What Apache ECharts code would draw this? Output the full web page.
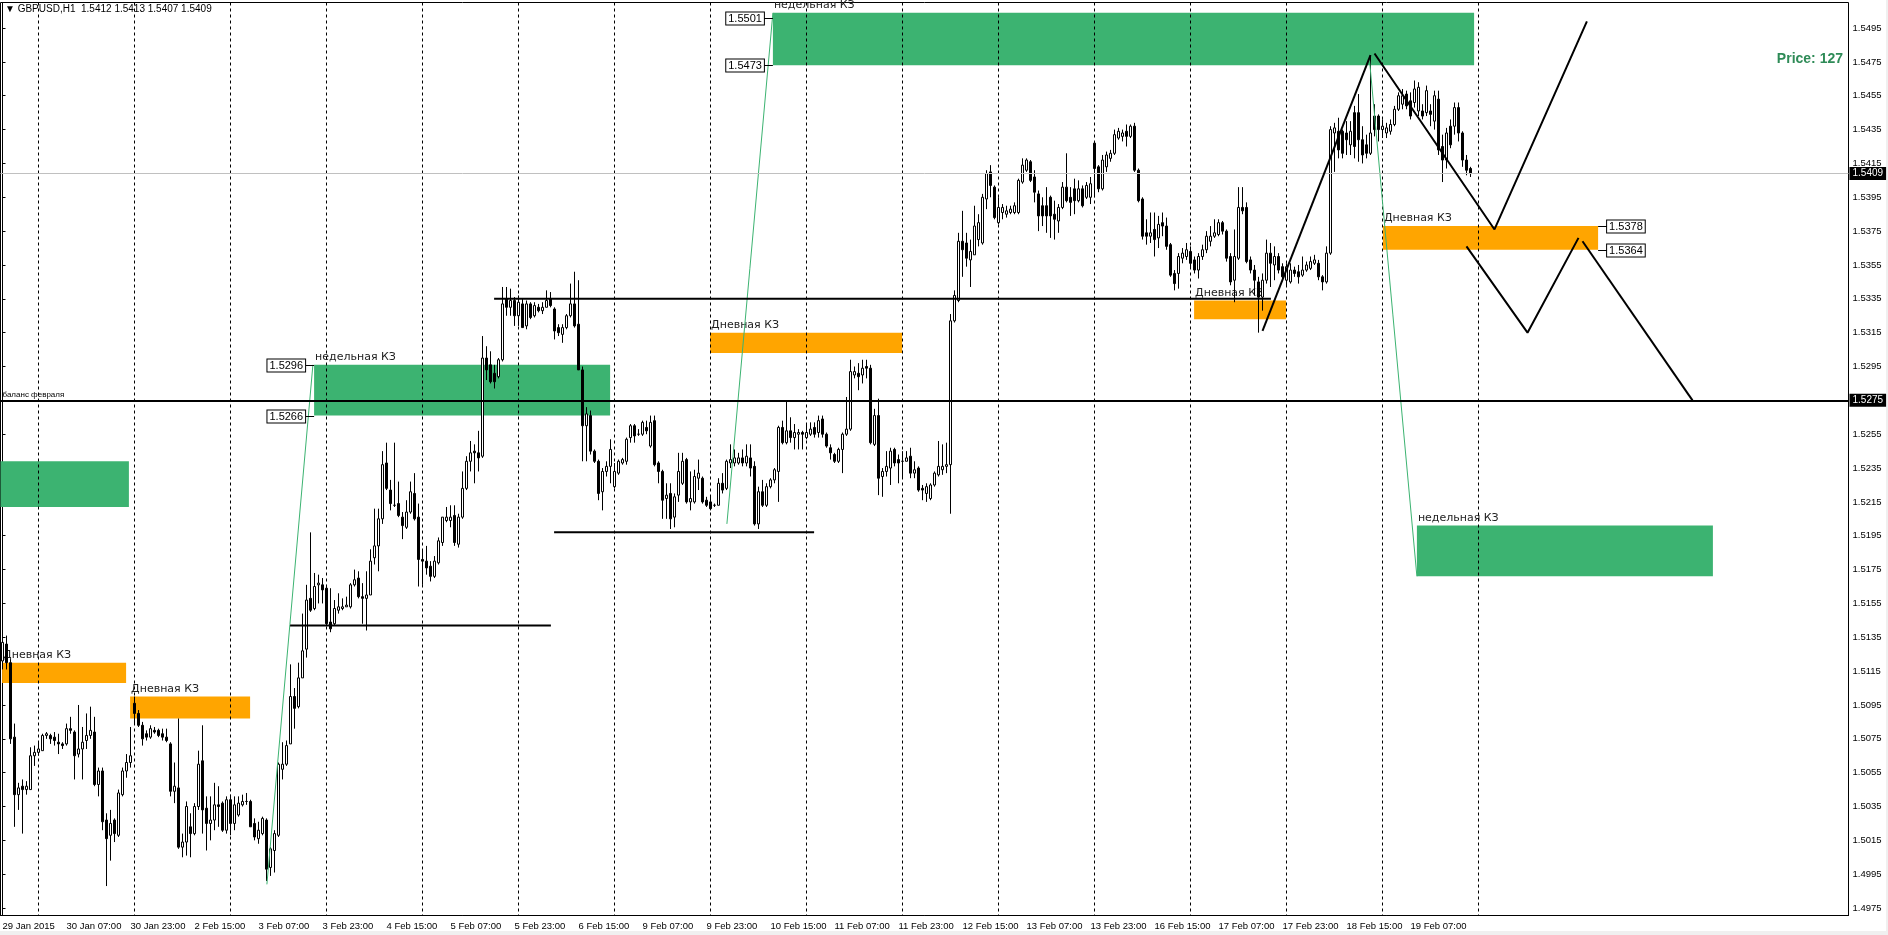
<!DOCTYPE html>
<html><head><meta charset="utf-8">
<script src="https://cdn.jsdelivr.net/npm/echarts@6/dist/echarts.min.js"></script>
<style>html,body{margin:0;padding:0;background:#fff}#c{width:1888px;height:935px}</style>
</head><body><div id="c"></div>
<script>
// ---------- DATA ----------
const header = '\u25BC GBPUSD,H1  1.5412 1.5413 1.5407 1.5409';
const priceText = 'Price: 127';
const timeLabels = ['29 Jan 2015','30 Jan 07:00','30 Jan 23:00','2 Feb 15:00','3 Feb 07:00','3 Feb 23:00','4 Feb 15:00','5 Feb 07:00','5 Feb 23:00','6 Feb 15:00','9 Feb 07:00','9 Feb 23:00','10 Feb 15:00','11 Feb 07:00','11 Feb 23:00','12 Feb 15:00','13 Feb 07:00','13 Feb 23:00','16 Feb 15:00','17 Feb 07:00','17 Feb 23:00','18 Feb 15:00','19 Feb 07:00'];
const labelEvery = 16; // bars between time labels
const priceTicks = [1.4975,1.4995,1.5015,1.5035,1.5055,1.5075,1.5095,1.5115,1.5135,1.5155,1.5175,1.5195,1.5215,1.5235,1.5255,1.5275,1.5295,1.5315,1.5335,1.5355,1.5375,1.5395,1.5415,1.5435,1.5455,1.5475,1.5495];
const daySeparators = [9,33,57,81,105,129,153,177,201,225,249,273,297,321,345,369]; // bar index of each day start
const totalSlots = 462; // bars + empty shift area
// hourly candles [open, high, low, close]
const ohlc = [
// 29 Jan
[1.5121,1.5143,1.5116,1.5132],[1.5131,1.5136,1.5116,1.5120],[1.5120,1.5122,1.5072,1.5075],[1.5076,1.5084,1.5023,1.5042],[1.5042,1.5049,1.5033,1.5046],[1.5047,1.5051,1.5019,1.5045],[1.5045,1.5050,1.5042,1.5047],[1.5045,1.5070,1.5045,1.5065],[1.5065,1.5071,1.5059,1.5067],
// 30 Jan
[1.5067,1.5073,1.5065,1.5069],[1.5068,1.5078,1.5068,1.5077],[1.5077,1.5079,1.5075,1.5078],[1.5077,1.5078,1.5072,1.5075],[1.5076,1.5079,1.5071,1.5074],[1.5073,1.5078,1.5066,1.5072],[1.5072,1.5073,1.5069,1.5071],[1.5072,1.5084,1.5071,1.5081],
[1.5081,1.5088,1.5078,1.5080],[1.5079,1.5080,1.5051,1.5065],[1.5066,1.5095,1.5064,1.5069],[1.5069,1.5082,1.5051,1.5073],[1.5074,1.5090,1.5069,1.5077],[1.5077,1.5094,1.5075,1.5080],[1.5079,1.5088,1.5047,1.5048],[1.5048,1.5058,1.5041,1.5056],
[1.5056,1.5058,1.5021,1.5026],[1.5027,1.5031,1.4988,1.5016],[1.5018,1.5033,1.5003,1.5025],[1.5027,1.5028,1.5014,1.5019],[1.5018,1.5045,1.5017,1.5043],[1.5042,1.5058,1.5041,1.5056],[1.5056,1.5066,1.5052,1.5061],[1.5061,1.5082,1.5058,1.5065],
// 2 Feb
[1.5096,1.5100,1.5084,1.5090],[1.5090,1.5092,1.5082,1.5083],[1.5083,1.5085,1.5071,1.5075],[1.5078,1.5080,1.5074,1.5076],[1.5076,1.5083,1.5075,1.5081],[1.5080,1.5082,1.5078,1.5079],[1.5080,1.5081,1.5076,1.5077],[1.5078,1.5081,1.5074,1.5076],
[1.5076,1.5081,1.5073,1.5074],[1.5072,1.5073,1.5041,1.5044],[1.5044,1.5061,1.5037,1.5047],[1.5046,1.5087,1.5010,1.5011],[1.5011,1.5019,1.5005,1.5014],[1.5014,1.5038,1.5006,1.5035],[1.5023,1.5031,1.5005,1.5019],[1.5019,1.5037,1.5018,1.5035],
[1.5035,1.5068,1.5033,1.5060],[1.5062,1.5083,1.5019,1.5033],[1.5034,1.5041,1.5009,1.5025],[1.5025,1.5041,1.5015,1.5027],[1.5027,1.5049,1.5021,1.5036],[1.5036,1.5047,1.5023,1.5035],[1.5037,1.5038,1.5020,1.5021],[1.5021,1.5041,1.5019,1.5039],
// 3 Feb
[1.5039,1.5042,1.5018,1.5025],[1.5025,1.5041,1.5021,1.5036],[1.5030,1.5041,1.5029,1.5037],[1.5036,1.5042,1.5035,1.5038],[1.5038,1.5043,1.5036,1.5038],[1.5038,1.5039,1.5023,1.5023],[1.5025,1.5028,1.5015,1.5017],[1.5016,1.5026,1.5013,1.5021],
[1.5019,1.5029,1.5018,1.5028],[1.5027,1.5028,1.4991,1.4998],[1.4999,1.5011,1.4994,1.5010],[1.5009,1.5021,1.4996,1.5019],[1.5018,1.5061,1.5017,1.5060],[1.5057,1.5073,1.5051,1.5060],[1.5060,1.5074,1.5059,1.5071],[1.5072,1.5119,1.5072,1.5100],
[1.5100,1.5105,1.5081,1.5093],[1.5094,1.5120,1.5093,1.5111],[1.5111,1.5149,1.5111,1.5127],[1.5128,1.5166,1.5123,1.5157],[1.5158,1.5197,1.5150,1.5151],[1.5152,1.5173,1.5151,1.5165],[1.5166,1.5172,1.5155,1.5167],[1.5166,1.5170,1.5155,1.5163],
// 4 Feb
[1.5164,1.5166,1.5142,1.5143],[1.5144,1.5164,1.5138,1.5140],[1.5143,1.5157,1.5142,1.5152],[1.5151,1.5161,1.5149,1.5153],[1.5152,1.5158,1.5151,1.5153],[1.5153,1.5159,1.5153,1.5154],[1.5153,1.5167,1.5152,1.5166],[1.5166,1.5175,1.5165,1.5169],
[1.5170,1.5174,1.5158,1.5159],[1.5159,1.5167,1.5143,1.5158],[1.5158,1.5174,1.5139,1.5160],[1.5160,1.5187,1.5160,1.5180],[1.5182,1.5211,1.5178,1.5189],[1.5189,1.5211,1.5174,1.5205],[1.5205,1.5245,1.5202,1.5237],[1.5238,1.5250,1.5222,1.5223],
[1.5222,1.5228,1.5210,1.5214],[1.5213,1.5250,1.5212,1.5213],[1.5214,1.5227,1.5206,1.5207],[1.5206,1.5209,1.5193,1.5201],[1.5200,1.5216,1.5199,1.5209],[1.5209,1.5227,1.5208,1.5221],[1.5220,1.5232,1.5204,1.5205],[1.5206,1.5214,1.5165,1.5181],
// 5 Feb
[1.5181,1.5186,1.5166,1.5180],[1.5180,1.5189,1.5172,1.5176],[1.5177,1.5180,1.5168,1.5171],[1.5171,1.5183,1.5170,1.5180],[1.5179,1.5194,1.5178,1.5192],[1.5191,1.5206,1.5189,1.5206],[1.5204,1.5212,1.5203,1.5206],[1.5204,1.5213,1.5200,1.5206],
[1.5207,1.5213,1.5189,1.5191],[1.5190,1.5208,1.5188,1.5206],[1.5206,1.5233,1.5205,1.5223],[1.5223,1.5242,1.5222,1.5239],[1.5239,1.5251,1.5233,1.5244],[1.5245,1.5249,1.5226,1.5244],[1.5244,1.5257,1.5233,1.5241],[1.5242,1.5313,1.5241,1.5300],
[1.5300,1.5307,1.5287,1.5293],[1.5296,1.5304,1.5285,1.5286],[1.5291,1.5296,1.5282,1.5286],[1.5289,1.5300,1.5288,1.5299],[1.5299,1.5342,1.5298,1.5332],[1.5335,1.5342,1.5325,1.5330],[1.5330,1.5341,1.5325,1.5334],[1.5334,1.5336,1.5319,1.5325],
// 6 Feb
[1.5325,1.5337,1.5319,1.5333],[1.5332,1.5335,1.5318,1.5318],[1.5319,1.5334,1.5317,1.5332],[1.5332,1.5333,1.5323,1.5324],[1.5325,1.5333,1.5324,1.5331],[1.5330,1.5332,1.5327,1.5328],[1.5328,1.5333,1.5326,1.5330],[1.5330,1.5340,1.5330,1.5334],
[1.5335,1.5339,1.5330,1.5331],[1.5329,1.5330,1.5311,1.5316],[1.5318,1.5320,1.5313,1.5315],[1.5314,1.5320,1.5309,1.5318],[1.5318,1.5326,1.5317,1.5325],[1.5325,1.5344,1.5324,1.5332],[1.5332,1.5351,1.5318,1.5319],[1.5320,1.5346,1.5293,1.5293],
[1.5293,1.5295,1.5239,1.5260],[1.5260,1.5271,1.5239,1.5267],[1.5266,1.5269,1.5243,1.5245],[1.5245,1.5246,1.5238,1.5239],[1.5239,1.5240,1.5216,1.5220],[1.5221,1.5235,1.5210,1.5233],[1.5233,1.5239,1.5230,1.5236],[1.5236,1.5252,1.5226,1.5246],
// 9 Feb
[1.5224,1.5238,1.5223,1.5233],[1.5232,1.5240,1.5231,1.5239],[1.5238,1.5241,1.5237,1.5240],[1.5239,1.5253,1.5237,1.5252],[1.5253,1.5261,1.5250,1.5260],[1.5260,1.5261,1.5250,1.5254],[1.5255,1.5258,1.5254,1.5255],[1.5255,1.5263,1.5254,1.5262],
[1.5259,1.5263,1.5255,1.5257],[1.5248,1.5266,1.5247,1.5262],[1.5263,1.5266,1.5236,1.5237],[1.5238,1.5239,1.5226,1.5233],[1.5233,1.5234,1.5205,1.5216],[1.5217,1.5226,1.5205,1.5219],[1.5220,1.5226,1.5199,1.5205],[1.5206,1.5220,1.5200,1.5218],
[1.5219,1.5244,1.5215,1.5233],[1.5226,1.5244,1.5225,1.5239],[1.5240,1.5241,1.5214,1.5215],[1.5215,1.5233,1.5210,1.5217],[1.5215,1.5234,1.5214,1.5230],[1.5229,1.5240,1.5222,1.5232],[1.5229,1.5230,1.5214,1.5215],[1.5216,1.5218,1.5212,1.5213],
// 10 Feb
[1.5215,1.5218,1.5210,1.5211],[1.5213,1.5214,1.5212,1.5213],[1.5213,1.5229,1.5213,1.5226],[1.5226,1.5232,1.5220,1.5222],[1.5223,1.5240,1.5222,1.5239],[1.5238,1.5249,1.5235,1.5240],[1.5238,1.5246,1.5236,1.5241],[1.5238,1.5244,1.5237,1.5241],
[1.5241,1.5246,1.5236,1.5238],[1.5238,1.5249,1.5236,1.5242],[1.5241,1.5249,1.5230,1.5235],[1.5236,1.5239,1.5201,1.5202],[1.5202,1.5224,1.5199,1.5221],[1.5221,1.5228,1.5212,1.5213],[1.5213,1.5226,1.5212,1.5224],[1.5224,1.5229,1.5223,1.5228],
[1.5228,1.5235,1.5226,1.5234],[1.5233,1.5260,1.5215,1.5259],[1.5259,1.5263,1.5249,1.5250],[1.5250,1.5275,1.5249,1.5257],[1.5257,1.5265,1.5250,1.5253],[1.5253,1.5261,1.5246,1.5256],[1.5255,1.5258,1.5246,1.5256],[1.5256,1.5257,1.5246,1.5255],
// 11 Feb
[1.5253,1.5261,1.5252,1.5256],[1.5255,1.5262,1.5254,1.5258],[1.5259,1.5262,1.5253,1.5255],[1.5256,1.5266,1.5253,1.5263],[1.5264,1.5266,1.5253,1.5255],[1.5255,1.5256,1.5247,1.5248],[1.5247,1.5249,1.5240,1.5244],[1.5243,1.5244,1.5238,1.5239],
[1.5239,1.5247,1.5238,1.5246],[1.5246,1.5256,1.5232,1.5255],[1.5255,1.5277,1.5254,1.5258],[1.5258,1.5299,1.5257,1.5292],[1.5290,1.5295,1.5288,1.5292],[1.5291,1.5297,1.5281,1.5289],[1.5290,1.5299,1.5285,1.5294],[1.5295,1.5299,1.5288,1.5294],
[1.5294,1.5296,1.5249,1.5250],[1.5249,1.5270,1.5248,1.5266],[1.5266,1.5276,1.5219,1.5229],[1.5230,1.5235,1.5218,1.5233],[1.5233,1.5245,1.5230,1.5236],[1.5235,1.5247,1.5225,1.5245],[1.5246,1.5247,1.5236,1.5238],[1.5240,1.5243,1.5226,1.5238],
// 12 Feb
[1.5239,1.5245,1.5229,1.5239],[1.5239,1.5245,1.5239,1.5241],[1.5242,1.5247,1.5229,1.5232],[1.5232,1.5239,1.5229,1.5234],[1.5235,1.5236,1.5221,1.5222],[1.5223,1.5225,1.5216,1.5222],[1.5220,1.5226,1.5215,1.5224],[1.5217,1.5226,1.5216,1.5225],
[1.5225,1.5233,1.5224,1.5232],[1.5231,1.5251,1.5230,1.5236],[1.5234,1.5249,1.5231,1.5236],[1.5236,1.5250,1.5232,1.5237],[1.5237,1.5326,1.5208,1.5322],[1.5322,1.5340,1.5321,1.5337],[1.5334,1.5374,1.5333,1.5369],[1.5369,1.5387,1.5348,1.5364],
[1.5368,1.5374,1.5354,1.5359],[1.5358,1.5370,1.5342,1.5363],[1.5361,1.5390,1.5361,1.5378],[1.5370,1.5385,1.5366,1.5380],[1.5368,1.5397,1.5367,1.5395],[1.5394,1.5411,1.5388,1.5409],[1.5410,1.5414,1.5395,1.5402],[1.5401,1.5402,1.5382,1.5383],
// 13 Feb
[1.5380,1.5395,1.5379,1.5389],[1.5386,1.5391,1.5382,1.5389],[1.5385,1.5390,1.5383,1.5387],[1.5386,1.5390,1.5385,1.5388],[1.5386,1.5392,1.5385,1.5390],[1.5386,1.5406,1.5385,1.5405],[1.5404,1.5418,1.5403,1.5414],[1.5411,1.5418,1.5410,1.5417],
[1.5416,1.5417,1.5404,1.5405],[1.5407,1.5411,1.5392,1.5398],[1.5397,1.5399,1.5375,1.5384],[1.5390,1.5395,1.5378,1.5384],[1.5390,1.5401,1.5374,1.5384],[1.5395,1.5396,1.5371,1.5384],[1.5385,1.5393,1.5370,1.5382],[1.5381,1.5391,1.5374,1.5389],
[1.5389,1.5404,1.5388,1.5401],[1.5401,1.5421,1.5392,1.5393],[1.5395,1.5401,1.5384,1.5392],[1.5400,1.5406,1.5385,1.5393],[1.5393,1.5405,1.5392,1.5400],[1.5400,1.5402,1.5389,1.5390],[1.5395,1.5404,1.5394,1.5402],[1.5395,1.5407,1.5391,1.5403],
// 16 Feb
[1.5427,1.5428,1.5395,1.5412],[1.5413,1.5414,1.5398,1.5400],[1.5400,1.5420,1.5399,1.5417],[1.5413,1.5422,1.5410,1.5420],[1.5418,1.5423,1.5416,1.5421],[1.5421,1.5435,1.5420,1.5432],[1.5430,1.5436,1.5429,1.5434],[1.5431,1.5435,1.5428,1.5433],
[1.5434,1.5438,1.5425,1.5431],[1.5431,1.5438,1.5430,1.5437],[1.5437,1.5439,1.5410,1.5411],[1.5411,1.5412,1.5392,1.5393],[1.5394,1.5395,1.5370,1.5372],[1.5374,1.5382,1.5367,1.5372],[1.5372,1.5386,1.5368,1.5374],[1.5376,1.5386,1.5360,1.5370],
[1.5371,1.5384,1.5365,1.5379],[1.5380,1.5386,1.5372,1.5378],[1.5378,1.5383,1.5364,1.5366],[1.5367,1.5368,1.5348,1.5349],[1.5350,1.5352,1.5340,1.5344],[1.5350,1.5362,1.5341,1.5360],[1.5359,1.5365,1.5356,1.5362],[1.5360,1.5368,1.5358,1.5364],
// 17 Feb
[1.5363,1.5366,1.5353,1.5356],[1.5358,1.5360,1.5350,1.5352],[1.5352,1.5362,1.5347,1.5360],[1.5360,1.5367,1.5358,1.5364],[1.5364,1.5375,1.5362,1.5372],[1.5369,1.5378,1.5366,1.5372],[1.5372,1.5382,1.5371,1.5374],[1.5373,1.5382,1.5372,1.5380],
[1.5380,1.5381,1.5373,1.5375],[1.5375,1.5376,1.5357,1.5359],[1.5360,1.5362,1.5343,1.5345],[1.5346,1.5376,1.5333,1.5360],[1.5359,1.5401,1.5358,1.5389],[1.5389,1.5401,1.5385,1.5387],[1.5389,1.5392,1.5356,1.5357],[1.5358,1.5360,1.5350,1.5352],
[1.5352,1.5355,1.5337,1.5346],[1.5345,1.5348,1.5315,1.5336],[1.5336,1.5350,1.5328,1.5346],[1.5346,1.5370,1.5344,1.5362],[1.5362,1.5368,1.5342,1.5356],[1.5355,1.5366,1.5346,1.5360],[1.5360,1.5362,1.5350,1.5352],[1.5354,1.5356,1.5346,1.5348],
// 18 Feb
[1.5346,1.5356,1.5343,1.5354],[1.5345,1.5356,1.5344,1.5352],[1.5352,1.5354,1.5348,1.5350],[1.5351,1.5355,1.5344,1.5348],[1.5349,1.5360,1.5348,1.5352],[1.5352,1.5357,1.5351,1.5355],[1.5353,1.5360,1.5352,1.5357],[1.5356,1.5361,1.5355,1.5358],
[1.5356,1.5358,1.5346,1.5348],[1.5348,1.5349,1.5340,1.5345],[1.5345,1.5366,1.5344,1.5362],[1.5362,1.5437,1.5361,1.5435],[1.5433,1.5439,1.5410,1.5436],[1.5434,1.5442,1.5418,1.5423],[1.5434,1.5435,1.5418,1.5421],[1.5433,1.5440,1.5420,1.5429],
[1.5426,1.5440,1.5420,1.5434],[1.5445,1.5449,1.5418,1.5425],[1.5445,1.5456,1.5416,1.5429],[1.5429,1.5437,1.5415,1.5420],[1.5426,1.5432,1.5418,1.5421],[1.5421,1.5479,1.5420,1.5433],[1.5443,1.5450,1.5431,1.5435],[1.5443,1.5444,1.5428,1.5435],
// 19 Feb
[1.5435,1.5441,1.5430,1.5437],[1.5433,1.5439,1.5430,1.5436],[1.5434,1.5441,1.5432,1.5438],[1.5438,1.5449,1.5437,1.5447],[1.5447,1.5457,1.5446,1.5455],[1.5450,1.5459,1.5447,1.5455],[1.5456,1.5458,1.5447,1.5449],[1.5452,1.5457,1.5441,1.5443],
[1.5451,1.5464,1.5448,1.5459],[1.5446,1.5463,1.5443,1.5460],[1.5446,1.5450,1.5441,1.5443],[1.5445,1.5461,1.5443,1.5458],[1.5446,1.5450,1.5437,1.5444],[1.5440,1.5458,1.5435,1.5455],[1.5453,1.5458,1.5420,1.5423],[1.5425,1.5432,1.5404,1.5417],
[1.5417,1.5436,1.5412,1.5433],[1.5437,1.5441,1.5424,1.5426],[1.5437,1.5451,1.5432,1.5448],[1.5448,1.5451,1.5428,1.5433],[1.5433,1.5434,1.5413,1.5417],[1.5417,1.5420,1.5408,1.5411],[1.5412,1.5413,1.5407,1.5409]
];
// zones: [fromBar, toBar, topPrice, bottomPrice, kind, label]
const zones = [
  [-0.5, 31.6, 1.5239, 1.5212, 'weekly', ''],
  [-0.1, 30.9, 1.5120, 1.5108, 'daily', 'Дневная КЗ'],
  [31.9, 61.9, 1.5100, 1.5087, 'daily', 'Дневная КЗ'],
  [77.9, 151.9, 1.5296, 1.5266, 'weekly', 'недельная КЗ'],
  [176.9, 224.9, 1.5315, 1.5303, 'daily', 'Дневная КЗ'],
  [192.6, 367.9, 1.5504, 1.5473, 'weekly', 'недельная КЗ'],
  [297.9, 320.9, 1.5334, 1.5323, 'daily', 'Дневная КЗ'],
  [345.1, 398.9, 1.5378, 1.5364, 'daily', 'Дневная КЗ'],
  [353.6, 427.6, 1.5201, 1.5171, 'weekly', 'недельная КЗ']
];
// price tags: [anchorBar, price, side(-1 left / 1 right)]
const priceTags = [[77.9,1.5296,-1],[77.9,1.5266,-1],[192.6,1.5501,-1],[192.6,1.5473,-1],[398.9,1.5378,1],[398.9,1.5364,1]];
// horizontal level segments: [fromBar, toBar, price]
const levels = [[71.9,137.1,1.5142],[137.9,202.9,1.5197],[122.9,317.1,1.5335]];
// zigzag projection paths [bar, price]
const zigzags = [
  [[315,1.5316],[342,1.5479]],
  [[343,1.5480],[373,1.5376],[396.1,1.5499]],
  [[366,1.5366],[381.25,1.5315],[394,1.5371]],
  [[395,1.5369],[422.5,1.5275]]
];
// thin green trend lines [bar, price]
const trendLines = [
  [[66.1,1.4989],[77.6,1.5296]],
  [[181.1,1.5202],[192.6,1.5504]],
  [[341.6,1.5480],[353.6,1.5171]]
];
const balanceLevel = 1.5275, balanceText = 'баланс февраля';
const bidPrice = 1.5409;
const yMin = 1.49706, yMax = 1.55101;

// ---------- STYLE ----------
const GREEN = '#3CB371', ORANGE = '#FFA500';
const chart = echarts.init(document.getElementById('c'), null, {renderer: 'canvas'});
const slots = Array.from({length: totalSlots}, (_, i) => String(i));

const lineSeries = [];
levels.forEach(l => lineSeries.push({type:'line', xAxisIndex:1, yAxisIndex:0, data:[[l[0], l[2]],[l[1], l[2]]], symbol:'none', silent:true, lineStyle:{color:'#000', width:2}, z:5}));
zigzags.forEach(p => lineSeries.push({type:'line', xAxisIndex:1, yAxisIndex:0, data:p, symbol:'none', silent:true, lineStyle:{color:'#000', width:2}, z:5}));
trendLines.forEach(p => lineSeries.push({type:'line', xAxisIndex:1, yAxisIndex:0, data:p, symbol:'none', silent:true, lineStyle:{color:GREEN, width:1}, z:4}));

const tagLabel = {show:true, color:'#fff', backgroundColor:'#000', padding:[2,3,1,3], fontSize:10, fontFamily:'Liberation Sans', distance:1};

chart.setOption({
  animation: false,
  backgroundColor: '#fff',
  grid: {left: 0.5, right: 39.5, top: 2.5, bottom: 19.5, show: true, borderColor: '#000', borderWidth: 1, backgroundColor: '#fff', outerBoundsMode: 'none'},
  graphic: [
    {type:'text', left: 5, top: 4, style:{text: header, font:'10px "Liberation Sans"', fill:'#000'}},
    {type:'text', right: 45, top: 52, style:{text: priceText, font:'bold 14px "Liberation Sans"', fill:'#2E8B57'}},
    {type:'rect', left: 0, top: 931, shape:{width:1888, height:4}, style:{fill:'#f0f0f0'}},
    {type:'rect', left: 1886, top: 0, shape:{width:2, height:935}, style:{fill:'#f0f0f0'}}
  ],
  xAxis: [
    {type:'category', data: slots, boundaryGap: true, position:'bottom',
     axisLine:{show:true, lineStyle:{color:'#000'}}, axisTick:{show:false}, splitLine:{show:false},
     axisLabel:{interval: (i) => i % labelEvery === 0 && i / labelEvery < timeLabels.length,
       formatter: (v, i) => timeLabels[Math.round(i / labelEvery)] || '', align:'left', margin: 6,
       fontSize: 9.5, fontFamily:'Liberation Sans', color:'#000'}},
    {type:'value', min: -0.5, max: totalSlots - 0.5, show: false, position:'bottom'}
  ],
  yAxis: [{type:'value', position:'right', min: yMin, max: yMax, scale: true,
    axisLine:{show:true, lineStyle:{color:'#000'}},
    axisTick:{show:true, length:3, customValues: priceTicks, lineStyle:{color:'#000'}},
    axisLabel:{customValues: priceTicks, formatter: v => v.toFixed(4), margin: 4, fontSize: 9.5, fontFamily:'Liberation Sans', color:'#000'},
    splitLine:{show:false}}],
  series: [
    {type:'custom', name:'zones', xAxisIndex:1, yAxisIndex:0, z:1, silent:true,
     data: zones.map(z => [z[0], z[2]]), encode:{x:0, y:1},
     renderItem: (params, api) => {
       const z = zones[params.dataIndex];
       const a = api.coord([z[0], z[2]]), b = api.coord([z[1], z[3]]);
       const ch = [{type:'rect', shape:{x:a[0], y:a[1], width:b[0]-a[0], height:b[1]-a[1]}, style:{fill: z[4] === 'weekly' ? GREEN : ORANGE}}];
       if (z[5]) ch.push({type:'text', x:a[0] + 1, y:a[1] - 2, style:{text:z[5], font:'11px "DejaVu Sans"', fill:'#222', align:'left', verticalAlign:'bottom'}});
       return {type:'group', children: ch};
     }},
    {type:'custom', name:'days', xAxisIndex:1, yAxisIndex:0, z:2, silent:true,
     data: daySeparators.map(v => [v, priceTicks[0]]), encode:{x:0, y:1},
     renderItem: (params, api) => {
       const x = api.coord([api.value(0), priceTicks[0]])[0];
       const cs = params.coordSys;
       return {type:'line', shape:{x1:x, y1:cs.y, x2:x, y2:cs.y + cs.height}, style:{stroke:'#000', lineWidth:1, lineDash:[3,3]}};
     }},
    {type:'candlestick', xAxisIndex:0, yAxisIndex:0, z:3, silent:true, barWidth: 2,
     data: ohlc.map(r => [r[0], r[3], r[2], r[1]]),
     itemStyle:{color:'#fff', color0:'#000', borderColor:'#000', borderColor0:'#000', borderColorDoji:'#000', borderWidth:1},
     markLine:{symbol:['none','none'], silent:true, animation:false, precision: 4,
       data:[
         {yAxis: bidPrice, lineStyle:{color:'#c0c0c0', width:1, type:'solid'}, label:Object.assign({position:'end', formatter: bidPrice.toFixed(4)}, tagLabel)},
         {yAxis: balanceLevel, lineStyle:{color:'#000', width:2, type:'solid'}, label:Object.assign({position:'end', formatter: balanceLevel.toFixed(4)}, tagLabel)},
         {yAxis: balanceLevel, lineStyle:{color:'#000', width:2, type:'solid'}, label:{show:true, position:'insideStartTop', formatter: balanceText, fontSize:8, fontFamily:'Liberation Sans', color:'#000', distance:2}}
       ]}},
    {type:'custom', name:'tags', xAxisIndex:1, yAxisIndex:0, z:6, silent:true,
     data: priceTags.map(t => [t[0], t[1]]), encode:{x:0, y:1},
     renderItem: (params, api) => {
       const t = priceTags[params.dataIndex];
       const p = api.coord([t[0], t[1]]);
       const y = Math.round(p[1]) + 0.5;
       const x2 = p[0] + t[2] * 9;
       return {type:'group', children:[
         {type:'line', shape:{x1:p[0], y1:y, x2:x2, y2:y}, style:{stroke:'#000', lineWidth:1}},
         {type:'text', x:x2, y:y, style:{text: t[1].toFixed(4), font:'11px "Liberation Sans"', fill:'#000', align: t[2] < 0 ? 'right' : 'left', verticalAlign:'middle', backgroundColor:'#fff', borderColor:'#000', borderWidth:1, padding:[1,2,0,2]}}
       ]};
     }}
  ].concat(lineSeries)
});
</script>
</body></html>
